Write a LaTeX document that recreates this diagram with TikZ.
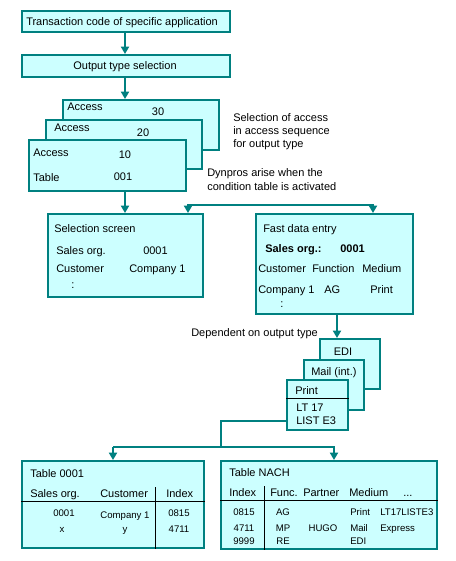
\documentclass[tikz,border=0pt]{standalone}
\usepackage{fontspec}
\setmainfont{Liberation Sans}
\usetikzlibrary{arrows.meta}
\definecolor{tealc}{HTML}{008080}
\definecolor{cyanf}{HTML}{CCFFFF}
\tikzset{
 box/.style={draw=tealc, fill=cyanf, line width=1.5pt, inner sep=0pt},
 arr/.style={draw=tealc, line width=1.5pt, -{Triangle[width=6pt,length=5.5pt]}},
 barr/.style={draw=tealc, line width=1.5pt, {Triangle[width=6pt,length=5.5pt]}-{Triangle[width=6pt,length=5.5pt]}},
 conn/.style={draw=tealc, line width=1.5pt},
 lt/.style={anchor=west, inner sep=0pt, text height=5.9pt, text depth=0pt, font=\fontsize{8.25}{9}\selectfont},
 ct/.style={anchor=center, inner sep=0pt, text height=5.9pt, text depth=0pt, font=\fontsize{8.25}{9}\selectfont},
 sm/.style={font=\fontsize{7.2}{8}\selectfont},
 bf/.style={font=\fontsize{8.25}{9}\selectfont\bfseries},
 rulel/.style={draw=black, line width=0.75pt}
}
\newcommand\bx[5]{\node[box, minimum width={(#4-#2)*0.75pt}, minimum height={(#5-#3)*0.75pt}] (#1) at ({(#2+#4)/2},{(#3+#5)/2}) {};}
\begin{document}
\begin{tikzpicture}[x=0.75pt,y=-0.75pt]
\useasboundingbox (0,0) rectangle (456,561);
% top boxes
\bx{tc}{22}{11}{230}{32}
\node[lt] (tct) at (26,22) {Transaction code of specific application};
\bx{ots}{22}{55}{230}{77}
\node[ct] (otst) at (125,66) {Output type selection};
\draw[arr] (tc.south -| 125,0) -- (ots.north -| 125,0);
% access stack
\bx{a30}{63}{100}{219}{150}
\node[lt] (a30a) at (67,107) {Access};
\node[ct] (a30n) at (158,112) {30};
\bx{a20}{46}{120}{202}{169}
\node[lt] (a20a) at (54,128) {Access};
\node[ct] (a20n) at (143,133) {20};
\bx{a10}{29}{140}{186}{191}
\node[lt] (a10a) at (33,153) {Access};
\node[ct] (a10n) at (125,155) {10};
\node[lt] (a10t) at (33,178) {Table};
\node[ct] (a10v) at (123,177) {001};
\draw[arr] (ots.south -| 125,0) -- (a30.north -| 125,0);
\node[lt] (sel1) at (233,118) {Selection of access};
\node[lt] (sel2) at (233,131) {in access sequence};
\node[lt] (sel3) at (233,144) {for output type};
\node[lt] (dyn1) at (207,173) {Dynpros arise when the};
\node[lt] (dyn2) at (207,187) {condition table is activated};
% selection screen
\bx{ss}{48}{214}{203}{297}
\draw[arr] (a10.south -| 125,0) -- (ss.north -| 125,0);
\node[lt] (sst) at (54,229) {Selection screen};
\node[lt] (ss1) at (56,251) {Sales org.};
\node[lt] (ss2) at (143,251) {0001};
\node[lt] (ss3) at (56,269) {Customer};
\node[lt] (ss4) at (129,269) {Company 1};
\node[ct] (ss5) at (73,285) {:};
% fast data entry
\bx{fde}{256}{214}{413}{314}
\node[lt] (fdet) at (263,229) {Fast data entry};
\node[lt,bf] (fd1) at (265,249) {Sales org.:};
\node[lt,bf] (fd2) at (340,249) {0001};
\node[lt] (fd3) at (258,269) {Customer};
\node[lt] (fd4) at (312,269) {Function};
\node[lt] (fd5) at (362,269) {Medium};
\node[lt] (fd6) at (258,290) {Company 1};
\node[lt] (fd7) at (324,290) {AG};
\node[lt] (fd8) at (370,290) {Print};
\node[ct] (fd9) at (282,304) {:};
\coordinate (bl) at (188,205);
\coordinate (br) at (373,205);
\draw[barr] (ss.north -| bl) -- (bl) -- (br) -- (fde.north -| br);
% output media stack
\node[lt] (dep) at (191,333) {Dependent on output type};
\bx{edi}{320}{339}{380}{389}
\node[ct] (edit) at (343,352) {EDI};
\bx{mail}{304}{360}{364}{410}
\node[lt] (mailt) at (311,372) {Mail (int.)};
\bx{prt}{287}{380}{348}{430}
\node[lt] (prtt) at (295,391) {Print};
\draw[rulel] (prt.west |- 0,398) -- (prt.east |- 0,398);
\node[lt] (prt1) at (296,408) {LT 17};
\node[lt] (prt2) at (296,421) {LIST E3};
\draw[arr] (fde.south -| 337,0) -- (edi.north -| 337,0);
% tables
\bx{t1}{22}{461}{204}{548}
\bx{t2}{221}{461}{437}{549}
\coordinate (jn) at (221,447);
\coordinate (ja) at (113,447);
\coordinate (jb) at (334,447);
\draw[conn] (prt.west |- 0,421) -| (jn);
\draw[arr] (ja) -- (t1.north -| ja);
\draw[arr] (ja) -- (jb) -- (t2.north -| jb);
% table 0001
\node[lt] (t1t) at (30,474) {Table 0001};
\node[lt] (t1h1) at (30,494) {Sales org.};
\node[lt] (t1h2) at (100,494) {Customer};
\node[lt] (t1h3) at (166,494) {Index};
\draw[rulel] (t1.west |- 0,501) -- (t1.east |- 0,501);
\draw[rulel] (155,487) -- (t1.south -| 155,0);
\node[ct,sm] (t1a1) at (64,513) {0001};
\node[ct,sm] (t1a2) at (125,515) {Company 1};
\node[ct,sm] (t1a3) at (179,513) {0815};
\node[ct,sm] (t1b1) at (62,529) {x};
\node[ct,sm] (t1b2) at (125,529) {y};
\node[ct,sm] (t1b3) at (179,529) {4711};
% table NACH
\node[lt] (t2t) at (229,473) {Table NACH};
\node[lt] (t2h1) at (229,493) {Index};
\node[lt] (t2h2) at (270,493) {Func.};
\node[lt] (t2h3) at (303,493) {Partner};
\node[lt] (t2h4) at (349,493) {Medium};
\node[lt] (t2h5) at (403,493) {...};
\draw[rulel] (t2.west |- 0,500) -- (t2.east |- 0,500);
\draw[rulel] (264,486) -- (t2.south -| 264,0);
\node[ct,sm] (r1a) at (244,512) {0815};
\node[ct,sm] (r1b) at (283,512) {AG};
\node[lt,sm] (r1c) at (350,512) {Print};
\node[lt,sm] (r1d) at (380,512) {LT17LISTE3};
\node[ct,sm] (r2a) at (244,528) {4711};
\node[ct,sm] (r2b) at (283,528) {MP};
\node[ct,sm] (r2c) at (323,528) {HUGO};
\node[lt,sm] (r2d) at (350,528) {Mail};
\node[lt,sm] (r2e) at (380,528) {Express};
\node[ct,sm] (r3a) at (244,541) {9999};
\node[ct,sm] (r3b) at (283,541) {RE};
\node[lt,sm] (r3c) at (350,541) {EDI};
\end{tikzpicture}
\end{document}
